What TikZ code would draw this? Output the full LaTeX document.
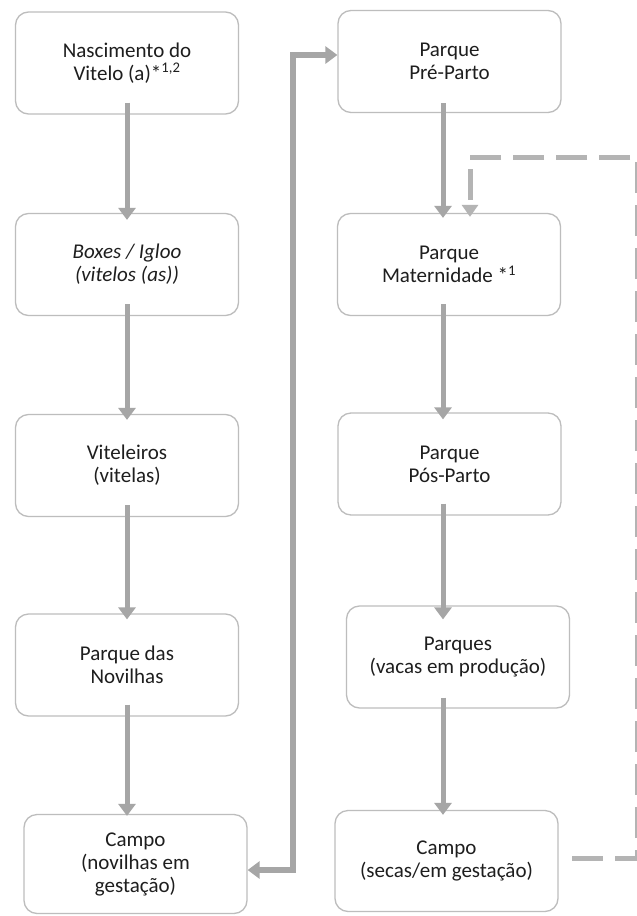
\documentclass[tikz,border=0pt]{standalone}
\usepackage{fontspec}
\setmainfont{Carlito}
\usetikzlibrary{arrows.meta,calc}
\definecolor{boxgray}{HTML}{BDBDBD}
\definecolor{arrgray}{HTML}{A6A6A6}
\definecolor{dashgray}{HTML}{B4B4B4}
\definecolor{txt}{HTML}{1E1E1E}
\begin{document}
\begin{tikzpicture}[x=1pt,y=-1pt,
  box/.style={draw=boxgray, line width=1.3pt, rounded corners=13pt, fill=white,
    minimum width=223pt, minimum height=102pt, align=center, text=txt,
    font=\fontsize{21}{23}\selectfont, inner sep=2pt},
  arr/.style={draw=arrgray, line width=5pt, -{Triangle[length=12pt,width=17pt]}},
  arrboth/.style={draw=arrgray, line width=5.5pt, {Triangle[length=12pt,width=17pt]}-{Triangle[length=12pt,width=17pt]}},
  dsh/.style={draw=dashgray, line width=5pt, dash pattern=on 31pt off 12pt, -{Triangle[length=12pt,width=16pt]}}
]
\useasboundingbox[fill=white] (0,0) rectangle (637,916);

\coordinate (lx) at (127,0);
\coordinate (rx) at (443,0);

% left column
\node[box] (b1) at (127,63) {Nascimento do\\Vitelo (a)*\textsuperscript{1,2}};
\node[box] (b2) at (127,264.5) {\itshape Boxes / Igloo\\\itshape (vitelos (as))};
\node[box] (b3) at (127,465.5) {Viteleiros\\(vitelas)};
\node[box] (b4) at (127,665) {Parque das\\Novilhas};
\node[box, minimum height=99pt] (b5) at (135.5,864) {Campo\\(novilhas em\\gestação)};

% right column
\node[box] (r1) at (449.5,61.5) {Parque\\Pré-Parto};
\node[box] (r2) at (449,264.5) {Parque\\Maternidade *\textsuperscript{1}};
\node[box] (r3) at (449.5,464) {Parque\\Pós-Parto};
\node[box] (r4) at (458,657) {Parques\\(vacas em produção)};
\node[box, minimum height=101pt] (r5) at (446.5,861) {Campo\\(secas/em gestação)};

% left arrows
\draw[arr] ($(b1.south -| lx)+(0,-12)$) -- ($(b2.north -| lx)+(0,7)$);
\draw[arr] ($(b2.south -| lx)+(0,-12)$) -- ($(b3.north -| lx)+(0,6)$);
\draw[arr] ($(b3.south -| lx)+(0,-12)$) -- ($(b4.north -| lx)+(0,6)$);
\draw[arr] ($(b4.south -| lx)+(0,-12)$) -- ($(b5.north -| lx)+(0,2)$);

% right arrows
\draw[arr] ($(r1.south -| rx)+(0,-10)$) -- ($(r2.north -| rx)+(0,5)$);
\draw[arr] ($(r2.south -| rx)+(0,-12)$) -- ($(r3.north -| rx)+(0,7)$);
\draw[arr] ($(r3.south -| rx)+(0,-12)$) -- ($(r4.north -| rx)+(0,14)$);
\draw[arr] ($(r4.south -| rx)+(0,-11)$) -- ($(r5.north -| rx)+(0,5)$);

% heifer loop connector
\coordinate (c1) at (293,870);
\coordinate (c2) at (293,55);
\draw[arrboth] ($(b5.east)+(0,6)$) -- (c1) -- (c2) -- ($(r1.west)+(0,-6.5)$);

% dashed return connector
\coordinate (d0) at (572,858);
\coordinate (d1) at (637.5,858);
\coordinate (d2) at (637.5,157);
\coordinate (d3) at (470,157);
\draw[dsh] (d0) -- (d1) -- (d2) -- (d3) -- ($(r2.north -| d3)+(0,4)$);
\end{tikzpicture}
\end{document}
